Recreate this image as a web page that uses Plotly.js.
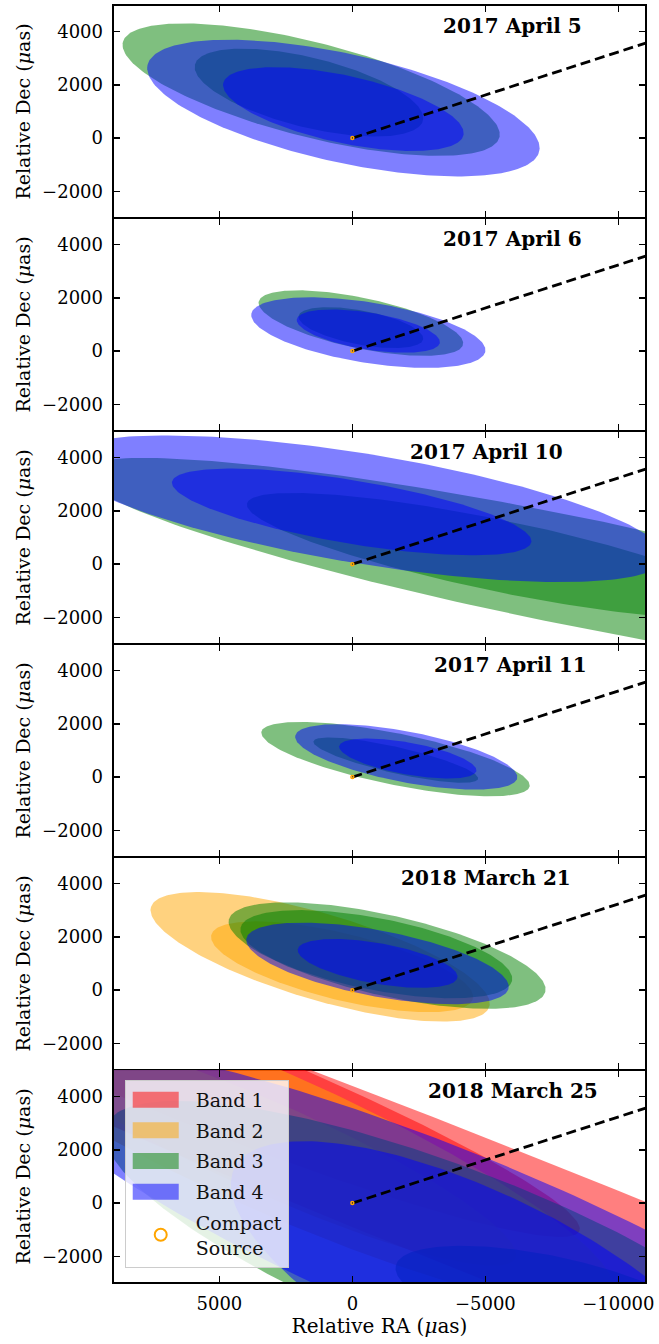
<!DOCTYPE html>
<html>
<head>
<meta charset="utf-8">
<script src="https://cdn.plot.ly/plotly-3.0.1.min.js"></script>
<style>html,body{margin:0;padding:0;background:#fff;}</style>
</head>
<body>
<div id="chart" style="width:659px;height:1344px;"></div>
<script>
// ---- Data ----
const panelTitles = ['2017 April 5', '2017 April 6', '2017 April 10', '2017 April 11', '2018 March 21', '2018 March 25'];
const panelTitleX = [0.75, 0.75, 0.70, 0.745, 0.70, 0.75];
const bandNames = ['Band 1', 'Band 2', 'Band 3', 'Band 4'];
const bandColors = ['rgba(255,0,0,0.5)', 'rgba(255,165,0,0.5)', 'rgba(0,128,0,0.5)', 'rgba(0,0,255,0.5)'];

// Error ellipses (µas): panel index, band index, centre RA, centre Dec, semi-major, semi-minor, tilt (deg)
const ellPanel = [0,0,0,0, 1,1,1,1, 2,2,2,2, 3,3,3,3, 4,4,4,4,4,4, 5,5,5,5,5,5,5,5];
const ellBand  = [2,2,3,3, 2,2,3,3, 2,2,3,3, 2,2,3,3, 1,1,2,2,3,3, 0,0,1,1,2,2,3,3];
const ellRA    = [1550,1632,338,338, -319,-319,-600,-600, -8069,-5500,-400,26, -1621,-1632,-2026,-2083, 1212,386,-1306,-900,-946,-949, -6000,6300,3000,3000,-3815,-7500,-4000,-5000];
const ellDec   = [1820,1711,1128,1090, 1053,883,695,752, -215,316,2080,1960, 677,639,759,699, 1252,876,1297,1350,1004,1004, -624,4950,2300,2000,-2100,-3600,-1630,-3300];
const ellA     = [7300,4413,7540,4620, 3925,2383,4454,2724, 18700,9665,11500,6850, 5145,3175,4248,2620, 6630,5062,6101,5200,5017,3047, 40000,16000,14000,10000,14000,6000,18000,10500];
const ellB     = [1780,1310,2040,1265, 953,643,1137,694, 2040,1340,2060,1190, 968,492,953,600, 1621,1250,1512,1350,1238,762, 2500,1800,2600,1700,3400,1600,3470,3600];
const ellTilt  = [14.2,13.8,12.4,12.2, 11.8,10.6,9.1,9.3, 11.4,11.7,9.3,9.5, 11.5,12.8,10.8,10.2, 16.4,13.7,12.8,11,10.7,10, 21.7,22,24,24,21,12,22.3,26];

// Jet direction line and compact source
const jetRA = [0, -11600];
const jetDec = [0, 3755];
const srcRA = [0];
const srcDec = [0];

const xTickVals = [5000, 0, -5000, -10000];
const xTickText = ['5000', '0', '\u22125000', '\u221210000'];
const yTickVals = [-2000, 0, 2000, 4000];
const yTickText = ['\u22122000', '0', '2000', '4000'];

// ---- Build ----
function ellipsePts(cx, cy, a, b, tiltDeg) {
  const p = tiltDeg * Math.PI / 180, xs = [], ys = [];
  for (let k = 0; k <= 240; k++) {
    const t = 2 * Math.PI * k / 240;
    const u = a * Math.cos(t), v = b * Math.sin(t);
    xs.push(cx + u * Math.cos(p) - v * Math.sin(p));
    ys.push(cy + u * Math.sin(p) + v * Math.cos(p));
  }
  return [xs, ys];
}

const traces = [];
const legendDone = {};
for (let i = 0; i < ellPanel.length; i++) {
  const pn = ellPanel[i], bd = ellBand[i];
  const [xs, ys] = ellipsePts(ellRA[i], ellDec[i], ellA[i], ellB[i], ellTilt[i]);
  const suf = pn === 0 ? '' : String(pn + 1);
  const show = (pn === 5 && !legendDone[bd]);
  if (show) legendDone[bd] = true;
  traces.push({
    type: 'scatter', mode: 'lines', x: xs, y: ys, xaxis: 'x' + suf, yaxis: 'y' + suf,
    fill: 'toself', fillcolor: bandColors[bd], line: {width: 0, color: bandColors[bd]},
    name: bandNames[bd], legendgroup: bandNames[bd], showlegend: show, legendrank: bd + 1,
    hoverinfo: 'skip'
  });
}
for (let pn = 0; pn < 6; pn++) {
  const suf = pn === 0 ? '' : String(pn + 1);
  traces.push({
    type: 'scatter', mode: 'lines', x: jetRA, y: jetDec, xaxis: 'x' + suf, yaxis: 'y' + suf,
    line: {color: 'black', width: 2.8, dash: '10px,5px'}, showlegend: false, hoverinfo: 'skip'
  });
  traces.push({
    type: 'scatter', mode: 'markers', x: srcRA, y: srcDec, xaxis: 'x' + suf, yaxis: 'y' + suf,
    marker: {symbol: 'circle-open', size: 3, color: '#ffa500', line: {width: 1.5, color: '#ffa500'}},
    name: 'Compact<br>Source', legendgroup: 'src', showlegend: pn === 5, legendrank: 5, hoverinfo: 'skip'
  });
}

const layout = {
  width: 659, height: 1344,
  margin: {l: 113, r: 13, t: 5, b: 61},
  paper_bgcolor: 'white', plot_bgcolor: 'white',
  font: {family: 'DejaVu Serif, serif', size: 18, color: 'black'},
  showlegend: true,
  legend: {
    x: 0.022, y: 0.159, xanchor: 'left', yanchor: 'top',
    bgcolor: 'rgba(255,255,255,0.8)', bordercolor: '#cccccc', borderwidth: 1,
    font: {family: 'DejaVu Serif, serif', size: 19, color: '#111'},
    traceorder: 'grouped', tracegroupgap: 3, itemsizing: 'constant', itemwidth: 60
  },
  shapes: [{type: 'rect', xref: 'paper', yref: 'paper', x0: 0, x1: 1, y0: 0, y1: 1,
            line: {color: 'black', width: 2}, fillcolor: 'rgba(0,0,0,0)', layer: 'above'}],
  annotations: []
};

for (let pn = 0; pn < 6; pn++) {
  const suf = pn === 0 ? '' : String(pn + 1);
  const top = 1 - pn / 6, bot = 1 - (pn + 1) / 6;
  layout['xaxis' + suf] = {
    domain: [0, 1], anchor: 'y' + suf, range: [9000, -11040],
    tickvals: xTickVals, ticktext: xTickText, showticklabels: pn === 5,
    ticks: 'inside', ticklen: 7, tickwidth: 1.3, tickcolor: 'black',
    showline: true, linewidth: 1.1, linecolor: 'black', mirror: 'ticks',
    showgrid: false, zeroline: false, fixedrange: true,
    tickfont: {size: 18}, ticklabelstandoff: 4,
    title: pn === 5 ? {text: 'Relative RA (<i>\u03bc</i>as)', font: {size: 20}, standoff: 4} : {text: ''}
  };
  layout['yaxis' + suf] = {
    domain: [bot, top], anchor: 'x' + suf, range: [-3000, 5000],
    tickvals: yTickVals, ticktext: yTickText,
    ticks: 'inside', ticklen: 7, tickwidth: 1.3, tickcolor: 'black',
    showline: true, linewidth: 1.4, linecolor: 'black', mirror: 'ticks',
    showgrid: false, zeroline: false, fixedrange: true,
    tickfont: {size: 18}, ticklabelstandoff: 5,
    title: {text: 'Relative Dec (<i>\u03bc</i>as)', font: {size: 19}, standoff: 6}
  };
  layout.annotations.push({
    text: '<b>' + panelTitles[pn] + '</b>', xref: 'x' + suf + ' domain', yref: 'y' + suf + ' domain',
    x: panelTitleX[pn], y: 0.9, xanchor: 'center', yanchor: 'middle', showarrow: false,
    font: {family: 'DejaVu Serif, serif', size: 20, color: 'black'}
  });
}

Plotly.newPlot('chart', traces, layout, {staticPlot: true, displayModeBar: false}).then(function () {
  // Wider, taller patch swatches in the legend, as in the original figure
  document.querySelectorAll('.legend .legendfill path').forEach(function (p) {
    p.setAttribute('d', 'M7,-8h46v16h-46z');
  });
});
</script>
</body>
</html>
